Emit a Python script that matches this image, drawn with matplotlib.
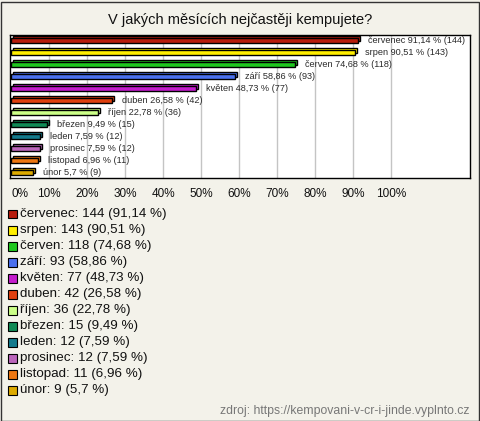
import matplotlib
matplotlib.use("Agg")
import matplotlib.pyplot as plt
from matplotlib.patches import Rectangle
from matplotlib.transforms import offset_copy

plt.rcParams['font.family'] = ['Liberation Sans', 'DejaVu Sans']

# data
months = ['červenec', 'srpen', 'červen', 'září', 'květen', 'duben',
          'říjen', 'březen', 'leden', 'prosinec', 'listopad', 'únor']
counts = [144, 143, 118, 93, 77, 42, 36, 15, 12, 12, 11, 9]
percents = [91.14, 90.51, 74.68, 58.86, 48.73, 26.58,
            22.78, 9.49, 7.59, 7.59, 6.96, 5.7]
colors = ['#b81c0c', '#ffee00', '#1fc81f', '#4a70ee', '#c41ccc', '#e0400f',
          '#ccff88', '#108a55', '#137a8c', '#bb66bb', '#ee7711', '#ddaa00']
xticks = list(range(0, 101, 10))

BG = '#f3f2ea'


def fmt(v):
    return ('%g' % v).replace('.', ',')


W, H = 480, 421
fig = plt.figure(figsize=(W / 100, H / 100), dpi=100, facecolor=BG)

# outer frame
fig.patches.append(Rectangle((0.5 / W, 0.5 / H), 1 - 2 / W, 1 - 2 / H,
                             transform=fig.transFigure, fill=False,
                             edgecolor='#333333', linewidth=1.0))

fig.text(240 / W, 1 - 20 / H, 'V jakých měsících nejčastěji kempujete?',
         ha='center', va='center', fontsize=10.5, color='#111111')

ax = fig.add_axes([10 / W, 1 - 178 / H, 460 / W, 143 / H])
ax.set_facecolor('white')
ax.set_xlim(-0.34, 120.7)
ax.set_ylim(len(months) - 0.5, -0.5)

for x in xticks[1:]:
    ax.axvline(x, color='#c4c4c4', linewidth=1.0, zorder=0)

ypos = list(range(len(months)))
back = offset_copy(ax.transData, fig=fig, x=2, y=2, units='dots')
ax.barh(ypos, percents, height=0.42, left=0, color=colors, edgecolor='black',
        linewidth=1.0, transform=back, zorder=2)
ax.barh(ypos, percents, height=0.42, left=0, color=colors, edgecolor='black',
        linewidth=1.0, zorder=3)

for y, m, p, c in zip(ypos, months, percents, counts):
    ax.annotate('%s %s %% (%d)' % (m, fmt(p), c), (p, y),
                xytext=(10, 0), textcoords='offset pixels',
                ha='left', va='center', fontsize=6.6, color='#2a2a2a')

ax.set_xticks(xticks)
ax.set_xticklabels(['%d%%' % t for t in xticks], fontsize=8.5, color='#111111')
ax.get_xticklabels()[0].set_ha('left')
ax.tick_params(axis='x', length=0, pad=7)
ax.set_yticks([])
for s in ax.spines.values():
    s.set_color('black')
    s.set_linewidth(1.0)

# legend rows
for i, (m, c, p, col) in enumerate(zip(months, counts, percents, colors)):
    yc = 214 + i * 16.0
    fig.patches.append(Rectangle((8 / W, 1 - (yc + 4.5) / H), 9 / W, 9 / H,
                                 transform=fig.transFigure, facecolor=col,
                                 edgecolor='black', linewidth=0.8))
    fig.text(20 / W, 1 - yc / H, '%s: %d (%s %%)' % (m, c, fmt(p)),
             ha='left', va='center', fontsize=9.6, color='#111111')

fig.text(469 / W, 1 - 411 / H, 'zdroj: https://kempovani-v-cr-i-jinde.vyplnto.cz',
         ha='right', va='center', fontsize=8.8, color='#777777')

fig.savefig('out.png', dpi=100, facecolor=BG)
